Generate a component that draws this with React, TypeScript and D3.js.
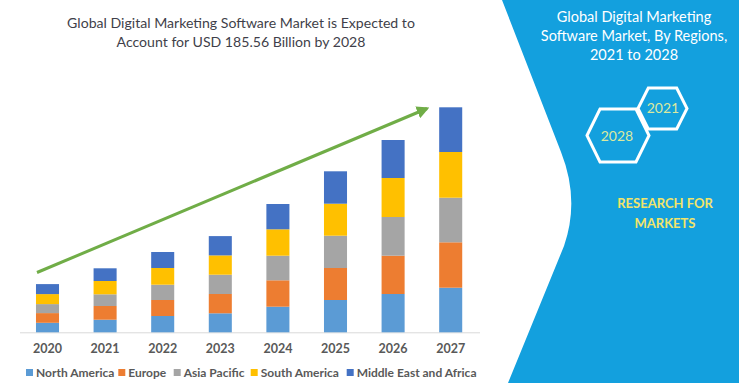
import React from "react";
import * as d3 from "d3";

const years = ["2020", "2021", "2022", "2023", "2024", "2025", "2026", "2027"];
const seriesNames = ["North America", "Europe", "Asia Pacific", "South America", "Middle East and Africa"];
const northAmerica = [9.5, 12.6, 16.3, 19, 25.6, 32.3, 38.3, 44.6];
const europe = [9.7, 13.7, 16, 19.3, 26.4, 32, 38.3, 45.4];
const asiaPacific = [9, 11.7, 15.3, 19.3, 24.6, 32.3, 38.7, 44.6];
const southAmerica = [10, 13.3, 16.7, 19.3, 26.4, 32, 39, 45.7];
const middleEastAfrica = [10, 12.7, 16, 19.3, 25.3, 32.4, 38, 44.7];
const colors = ["#5b9bd5", "#ed7d31", "#a5a5a5", "#ffc000", "#4472c4"];

const W = 739;
const H = 383;

export default function App() {
  const seriesValues = [northAmerica, europe, asiaPacific, southAmerica, middleEastAfrica];
  const table = years.map((y, i) => {
    const row: any = { year: y };
    seriesNames.forEach((s, k) => (row[s] = seriesValues[k][i]));
    return row;
  });
  const stacked = d3.stack<any>().keys(seriesNames)(table);

  const x = d3.scaleBand<string>().domain(years).range([18.7, 479.5]).paddingInner(0.6).paddingOuter(0.3);
  const y = d3.scaleLinear().domain([0, 250]).range([332.3, 82.3]);

  const hexPath = (cx: number, cy: number, w: number, h: number) => {
    const hw = w / 2, hh = h / 2, q = w * 0.21;
    return `M${cx - hw},${cy} L${cx - hw + q},${cy - hh} L${cx + hw - q},${cy - hh} L${cx + hw},${cy} L${cx + hw - q},${cy + hh} L${cx - hw + q},${cy + hh} Z`;
  };

  const legendX = [26, 118.3, 173.7, 250.7, 346.7];
  const font = "Lato, 'Open Sans', sans-serif";

  return (
    <svg width={W} height={H} style={{ position: "absolute", left: 0, top: 0, background: "#fff" }}>
      <defs>
        <marker id="ah" viewBox="0 0 10 10" refX="8" refY="5" markerWidth="4.2" markerHeight="4.2" orient="auto">
          <path d="M0,0 L10,5 L0,10 Z" fill="#70ad47" />
        </marker>
      </defs>
      <rect width={W} height={H} fill="#fff" />
      {/* right blue panel */}
      <path d="M502,0 L561,152 Q580,200 564,246 L508,383 L739,383 L739,0 Z" fill="#13a0de" />

      {/* title */}
      <text x={241} y={28} textAnchor="middle" fontFamily={font} fontSize={14.1} fill="#3f3f4a">
        Global Digital Marketing Software Market is Expected to
      </text>
      <text x={241} y={47} textAnchor="middle" fontFamily={font} fontSize={14.1} fill="#3f3f4a">
        Account for USD 185.56 Billion by 2028
      </text>

      {/* baseline */}
      <line x1={20} x2={480} y1={y(0) + 0.5} y2={y(0) + 0.5} stroke="#d9d9d9" strokeWidth={1} />

      {/* bars */}
      {stacked.map((s, k) => (
        <g key={s.key} fill={colors[k]}>
          {s.map((d, i) => (
            <rect key={i} x={x(years[i])!} width={x.bandwidth()} y={y(d[1])} height={y(d[0]) - y(d[1])} />
          ))}
        </g>
      ))}

      {/* arrow */}
      <line x1={37} y1={272.5} x2={427} y2={108.5} stroke="#70ad47" strokeWidth={3} markerEnd="url(#ah)" />

      {/* year labels */}
      {years.map((yr) => (
        <text key={yr} x={x(yr)! + x.bandwidth() / 2} y={353} textAnchor="middle" fontFamily={font} fontWeight={700} fontSize={12.5} fill="#595959">
          {yr}
        </text>
      ))}

      {/* legend */}
      {seriesNames.map((s, k) => (
        <g key={s}>
          <rect x={legendX[k]} y={369} width={7} height={7} fill={colors[k]} />
          <text x={legendX[k] + 10} y={377} fontFamily={font} fontWeight={700} fontSize={12} fill="#595959">
            {s}
          </text>
        </g>
      ))}

      {/* right panel text */}
      <g fontFamily={font} fill="#fff" fontSize={14.5} textAnchor="middle">
        <text x={634} y={22}>Global Digital Marketing</text>
        <text x={634} y={41}>Software Market, By Regions,</text>
        <text x={634} y={60}>2021 to 2028</text>
      </g>
      <path d={hexPath(662.5, 108.5, 49, 41)} fill="none" stroke="#fff" strokeWidth={3} />
      <path d={hexPath(618, 135.5, 62, 53)} fill="none" stroke="#fff" strokeWidth={3} />
      <text x={663} y={113} textAnchor="middle" fontFamily={font} fontSize={14} fill="#dbe9a0">2021</text>
      <text x={617} y={141} textAnchor="middle" fontFamily={font} fontSize={14} fill="#dbe9a0">2028</text>
      <g fontFamily={font} fontWeight={700} fontSize={13} fill="#f2e46a" textAnchor="middle">
        <text x={665} y={208}>RESEARCH FOR</text>
        <text x={665} y={228}>MARKETS</text>
      </g>
    </svg>
  );
}
